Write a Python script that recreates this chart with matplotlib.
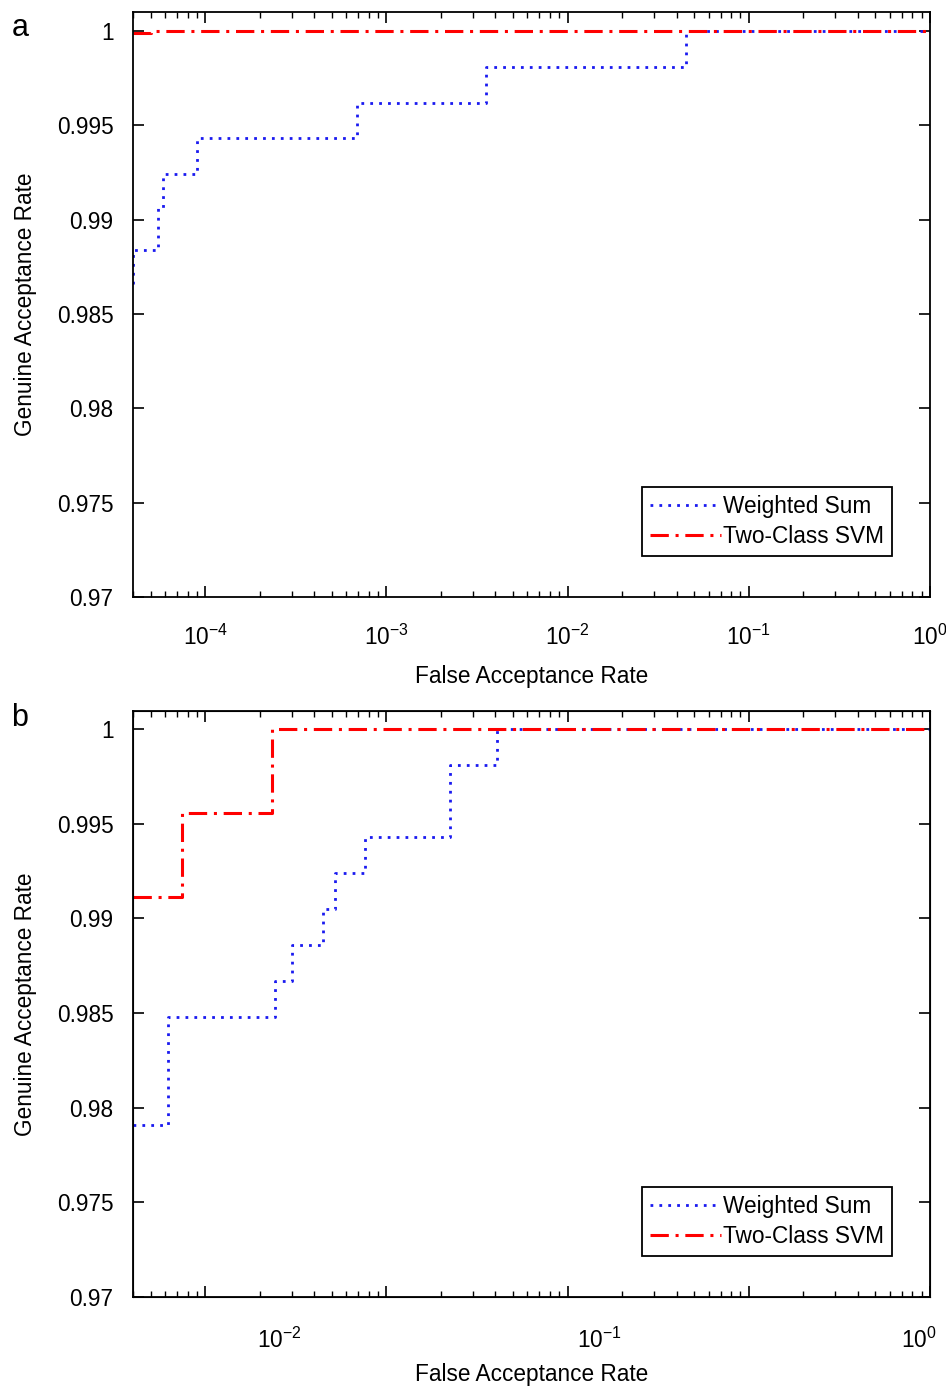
import numpy as np
import matplotlib
matplotlib.use("Agg")
import matplotlib.pyplot as plt
from matplotlib.ticker import FixedLocator, LogLocator, NullFormatter, NullLocator

plt.rcParams['font.family'] = ['Liberation Sans', 'DejaVu Sans']
plt.rcParams['mathtext.fontset'] = 'custom'
plt.rcParams['mathtext.rm'] = 'Liberation Sans'
plt.rcParams['mathtext.it'] = 'Liberation Sans'

# panel a data
far_ws_a = [4.0e-5, 4.0e-5, 5.5e-5, 5.86e-5, 9.0e-5, 6.93e-4, 3.55e-3, 0.0453, 1.0]
gar_ws_a = [0.9866, 0.9884, 0.9906, 0.9924, 0.9943, 0.9962, 0.9981, 1.0, 1.0]
far_svm_a = [4.0e-5, 5.0e-5, 1.0]
gar_svm_a = [0.99991, 1.0, 1.0]

# panel b data
far_ws_b = [3.5e-3, 4.5e-3, 9.72e-3, 1.10e-2, 1.37e-2, 1.50e-2, 1.86e-2, 3.42e-2, 4.8e-2, 1.08]
gar_ws_b = [0.9791, 0.9848, 0.9867, 0.9886, 0.9905, 0.9924, 0.9943, 0.9981, 1.0, 1.0]
far_svm_b = [3.5e-3, 4.98e-3, 9.5e-3, 1.08]
gar_svm_b = [0.99113, 0.99556, 1.0, 1.0]

yticks = [0.97, 0.975, 0.98, 0.985, 0.99, 0.995, 1.0]
ytick_labels = ['0.97', '0.975', '0.98', '0.985', '0.99', '0.995', '1']

blue = '#1a1af0'
red = '#ff0000'
ws_style = (0, (1, 2.2))
svm_style = (0, (6, 2.2, 1, 2.2))
fs = 16.3

fig = plt.figure(figsize=(9.46, 13.89), dpi=100)

def style_axes(ax, ylim):
    ax.set_ylim(*ylim)
    ax.set_yticks(yticks)
    ax.set_yticklabels(ytick_labels)
    for s in ax.spines.values():
        s.set_linewidth(1.3)
    ax.tick_params(axis='y', which='both', direction='in', left=True, right=True,
                   length=8, width=1.2, labelsize=fs, pad=14)
    ax.set_ylabel('Genuine Acceptance Rate', fontsize=fs, labelpad=14)

def log_ticks(ax):
    ax.xaxis.set_major_locator(LogLocator(base=10, numticks=20))
    ax.xaxis.set_minor_locator(LogLocator(base=10, subs=np.arange(2, 10), numticks=20))
    ax.tick_params(axis='x', which='major', direction='in', top=True, bottom=True,
                   length=8, width=1.2)
    ax.tick_params(axis='x', which='minor', direction='in', top=True, bottom=True,
                   length=4, width=1.0)

def add_legend(ax):
    leg = ax.legend(loc='lower right', bbox_to_anchor=(0.952, 0.070), borderaxespad=0,
                    fancybox=False, edgecolor='black', framealpha=1, fontsize=fs,
                    handlelength=3.1, handletextpad=0.1, borderpad=0.35, labelspacing=0.3)
    leg.get_frame().set_linewidth(1.3)

# ---- panel a ----
ax1 = fig.add_axes([0.1406, 0.5702, 0.8425, 0.4212])
ax1.set_xscale('log')
ax1.plot(far_ws_a, gar_ws_a, drawstyle='steps-post', color=blue, lw=2,
         linestyle=ws_style, label='Weighted Sum')
ax1.plot(far_svm_a, gar_svm_a, drawstyle='steps-post', color=red, lw=2.2,
         linestyle=svm_style, label='Two-Class SVM')
ax1.set_xlim(4e-5, 1.0)
style_axes(ax1, (0.97, 1.001))
log_ticks(ax1)
ax1.tick_params(axis='x', which='major', labelsize=fs, pad=20)
ax1.xaxis.set_minor_formatter(NullFormatter())
ax1.set_xlabel('False Acceptance Rate', fontsize=fs, labelpad=11)
add_legend(ax1)
fig.text(0.012, 0.980, 'a', fontsize=22, va='center')

# ---- panel b ----
ax2 = fig.add_axes([0.1406, 0.0662, 0.8425, 0.4219])
ax2.set_xscale('log')
ax2.plot(far_ws_b, gar_ws_b, drawstyle='steps-post', color=blue, lw=2,
         linestyle=ws_style, label='Weighted Sum')
ax2.plot(far_svm_b, gar_svm_b, drawstyle='steps-post', color=red, lw=2.2,
         linestyle=svm_style, label='Two-Class SVM')
ax2.set_xlim(3.5e-3, 1.08)
style_axes(ax2, (0.97, 1.00095))
ax2.xaxis.set_major_locator(FixedLocator([1e-2, 1e-1, 1.0]))
ax2.xaxis.set_minor_locator(NullLocator())
ax2.tick_params(axis='x', which='major', length=0, labelsize=fs, pad=22)
ax2.set_xlabel('False Acceptance Rate', fontsize=fs, labelpad=7)
add_legend(ax2)

# tick marks in panel b follow the panel a scale
ax2t = ax2.twiny()
ax2t.set_xscale('log')
ax2t.set_xlim(4e-5, 1.0)
log_ticks(ax2t)
ax2t.tick_params(axis='x', which='both', labeltop=False, labelbottom=False)
ax2t.xaxis.set_major_formatter(NullFormatter())
ax2t.xaxis.set_minor_formatter(NullFormatter())
fig.text(0.012, 0.483, 'b', fontsize=22, va='center')

fig.savefig('out.png', dpi=100)
